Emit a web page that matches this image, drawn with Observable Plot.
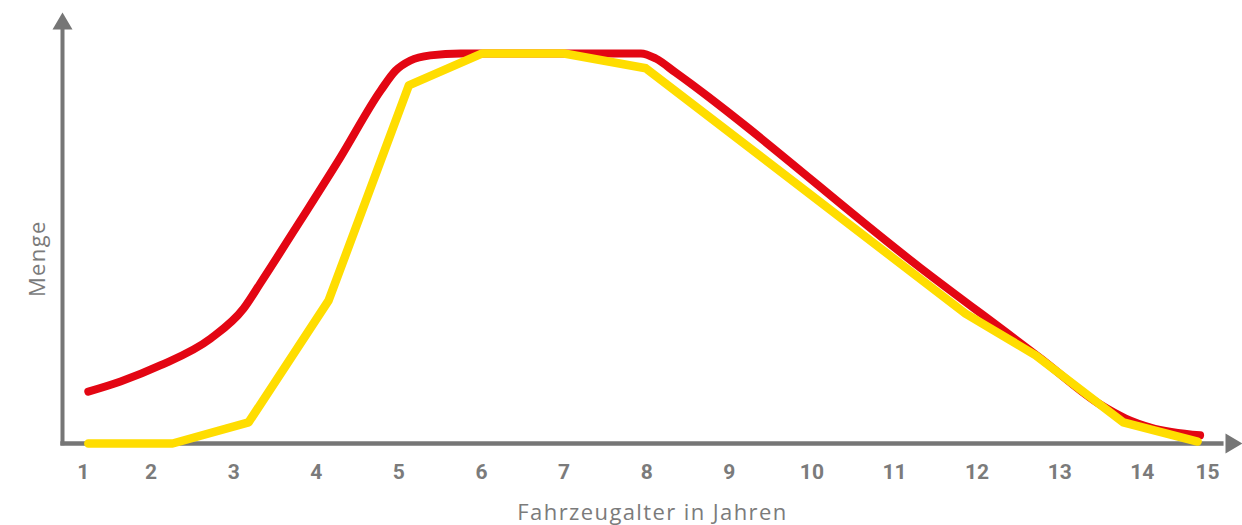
<!DOCTYPE html>
<html>
<head>
<meta charset="utf-8">
<script src="https://cdn.jsdelivr.net/npm/d3@7"></script>
<script src="https://cdn.jsdelivr.net/npm/@observablehq/plot@0.6"></script>
<style>
  html, body { margin: 0; padding: 0; background: #fff; }
  #chart svg { display: block; }
</style>
</head>
<body>
<div id="chart"></div>
<script>
// Tick labels and their positions along the age axis
const tickLabels = ["1","2","3","4","5","6","7","8","9","10","11","12","13","14","15"];
const tickPos = [1.18, 2, 3, 4, 5, 6, 7, 8, 9, 10, 11, 12, 13, 14, 14.79];

// Red series (smooth curve)
const redX = [1.24, 1.63, 2.11, 2.72, 3.12, 3.32, 3.81, 4.29, 4.78, 4.96, 5.14, 5.38, 5.75, 7.93, 8.11, 8.35, 11.31, 12.77, 13.49, 13.80, 14.10, 14.70];
const redY = [13.3, 15.9, 20.0, 26.9, 34.6, 41.0, 57.2, 73.3, 90.5, 95.6, 98.2, 99.5, 100, 100, 98.7, 95.1, 45.1, 21.8, 10.0, 6.4, 4.1, 2.1];

// Yellow series (polyline)
const yelX = [1.24, 2.26, 3.18, 4.15, 5.12, 6.01, 7.00, 7.99, 11.86, 12.71, 13.77, 14.67];
const yelY = [0, 0, 5.4, 36.7, 91.8, 100, 100, 96.2, 33.3, 22.6, 5.4, 0.5];

const xTitle = "Fahrzeugalter in Jahren";
const yTitle = "Menge";

const xDomain = [0.9274, 15.2133];
const yDomain = [0, 110.5];
const xArrowBase = 14.99;
const yArrowBase = 106.4;
const yTitlePos = 47.4;

const red = redX.map((x, i) => ({x, y: redY[i]}));
const yel = yelX.map((x, i) => ({x, y: yelY[i]}));
const ticks = tickPos.map((x, i) => ({x, label: tickLabels[i]}));

const gray = "#767676";
const textGray = "#7b7b7b";

const arrowHead = {
  draw(context) {
    context.moveTo(0, 0);
    context.lineTo(-10, 17);
    context.lineTo(10, 17);
    context.closePath();
  }
};

const chart = Plot.plot({
  width: 1242,
  height: 525,
  marginLeft: 62,
  marginRight: 0,
  marginTop: 12,
  marginBottom: 82,
  style: {fontFamily: "Roboto, sans-serif", background: "#fff"},
  x: {domain: xDomain, axis: null},
  y: {domain: yDomain, axis: null},
  marks: [
    Plot.ruleY([0], {x1: xDomain[0] - 0.02, x2: xArrowBase, stroke: gray, strokeWidth: 4.5}),
    Plot.ruleX([xDomain[0]], {y1: -0.55, y2: yArrowBase, stroke: gray, strokeWidth: 4}),
    Plot.dot([{x: xDomain[0], y: yDomain[1]}], {x: "x", y: "y", symbol: arrowHead, fill: gray, stroke: null, r: 5}),
    Plot.dot([{x: xDomain[1], y: 0}], {x: "x", y: "y", symbol: arrowHead, fill: gray, stroke: null, r: 5, rotate: 90}),
    Plot.line(red, {x: "x", y: "y", stroke: "#e30613", strokeWidth: 8, curve: "monotone-x", strokeLinecap: "round", strokeLinejoin: "round"}),
    Plot.line(yel, {x: "x", y: "y", stroke: "#ffdd00", strokeWidth: 8.5, curve: "linear", strokeLinecap: "round", strokeLinejoin: "round"}),
    Plot.text(ticks, {x: "x", y: () => 0, text: "label", dy: 29, fill: textGray, fontSize: 21, fontWeight: "bold"}),
    Plot.text([xTitle], {frameAnchor: "bottom", dy: 76, fill: textGray, fontSize: 22, fontFamily: "'Open Sans', sans-serif"}),
    Plot.text([yTitle], {x: () => xDomain[0], y: () => yTitlePos, dx: -25, rotate: -90, fill: textGray, fontSize: 22, fontFamily: "'Open Sans', sans-serif"})
  ]
});
d3.select(chart).selectAll("text")
  .filter(function() { return this.textContent === xTitle || this.textContent === yTitle; })
  .style("letter-spacing", "1.4px");
document.getElementById("chart").appendChild(chart);
</script>
</body>
</html>
